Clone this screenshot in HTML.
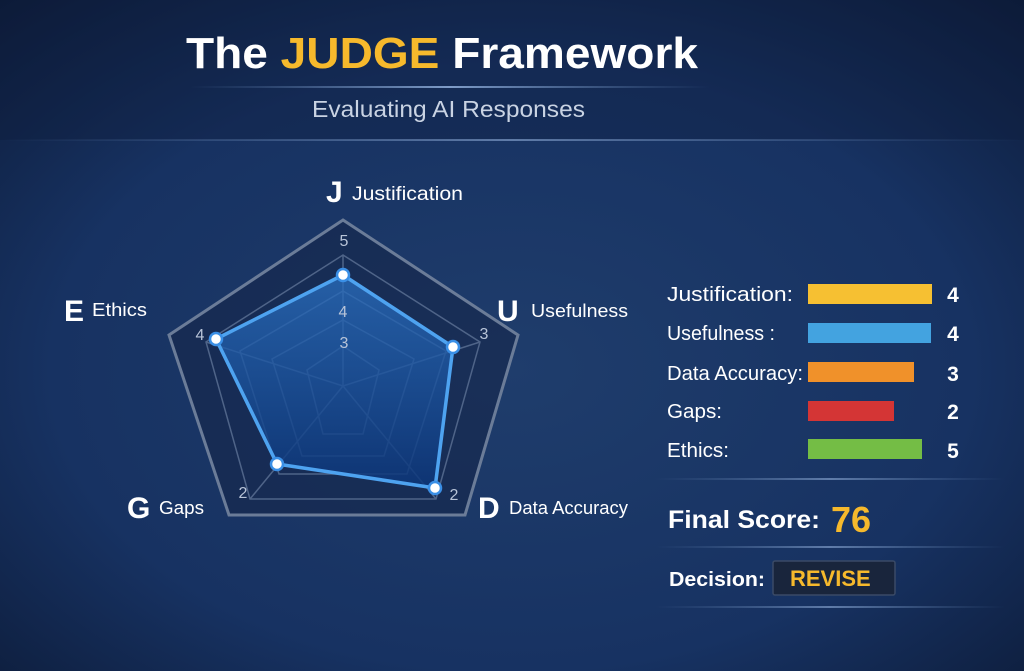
<!DOCTYPE html>
<html><head><meta charset="utf-8"><style>
html,body{margin:0;padding:0;width:1024px;height:671px;overflow:hidden;background:#142a50}
svg{display:block}
text{font-family:"Liberation Sans",sans-serif}
</style></head><body>
<svg width="1024" height="671" viewBox="0 0 1024 671" xmlns="http://www.w3.org/2000/svg">
<defs>
<radialGradient id="bg" cx="0.5" cy="0.55" r="0.75">
<stop offset="0" stop-color="#1f3d6c"/><stop offset="0.6" stop-color="#173262"/><stop offset="1" stop-color="#0c1a36"/>
</radialGradient>
<linearGradient id="hl" x1="0" x2="1"><stop offset="0" stop-color="#5a7aa8" stop-opacity="0"/><stop offset="0.5" stop-color="#7f9cc8"/><stop offset="1" stop-color="#5a7aa8" stop-opacity="0"/></linearGradient>
<linearGradient id="fill" x1="0" y1="0" x2="0" y2="1"><stop offset="0" stop-color="#2a6fc0" stop-opacity="0.75"/><stop offset="1" stop-color="#0c3578" stop-opacity="0.85"/></linearGradient>
</defs>
<rect width="1024" height="671" fill="url(#bg)"/>
<rect x="0" y="0" width="1024" height="140" fill="#0e1d3c" opacity="0.35"/>
<text x="186" y="68" font-size="44" font-weight="bold" fill="#fff" textLength="512" lengthAdjust="spacingAndGlyphs">The <tspan fill="#f6b92c">JUDGE</tspan> Framework</text>
<rect x="190" y="86" width="520" height="2" fill="url(#hl)"/>
<text x="312" y="117" font-size="23" fill="#c9d3e3" textLength="273" lengthAdjust="spacingAndGlyphs">Evaluating AI Responses</text>
<rect x="0" y="139" width="1024" height="2" fill="url(#hl)" opacity="0.7"/>
<polygon points="343,220 518,335 465,515 229,515 169,335" fill="#16274a" fill-opacity="0.6" stroke="#6b7c98" stroke-width="3"/>
<g fill="none" stroke="#4f6488" stroke-width="1.5">
<polygon points="343,255 480,342 436,499 250,499 206,342"/>
<polygon points="343,291 446,351 407,474 279,474 240,351"/>
<polygon points="343,320 414,359 384,456 302,456 272,359"/>
<polygon points="343,346 379,370 363,434 323,434 307,370"/>
<line x1="343" y1="386" x2="343" y2="255"/><line x1="343" y1="386" x2="480" y2="342"/><line x1="343" y1="386" x2="436" y2="499"/><line x1="343" y1="386" x2="250" y2="499"/><line x1="343" y1="386" x2="206" y2="342"/>
</g>
<polygon points="343,275 453,347 435,488 277,464 216,339" fill="url(#fill)" stroke="#4ea3f0" stroke-width="3.5" stroke-linejoin="round"/>
<g fill="#fff" stroke="#3a8fe6" stroke-width="2.5">
<circle cx="343" cy="275" r="6"/><circle cx="453" cy="347" r="6"/><circle cx="435" cy="488" r="6"/><circle cx="277" cy="464" r="6"/><circle cx="216" cy="339" r="6"/>
</g>
<g fill="#b8c4d8" font-size="16" text-anchor="middle">
<text x="344" y="246">5</text><text x="343" y="317">4</text><text x="344" y="348">3</text>
<text x="200" y="340">4</text><text x="484" y="339">3</text><text x="454" y="500">2</text><text x="243" y="498">2</text>
</g>
<g fill="#fff">
<text x="326" y="202" font-size="30" font-weight="bold">J</text><text x="352" y="200" font-size="19" textLength="111" lengthAdjust="spacingAndGlyphs">Justification</text>
<text x="497" y="321" font-size="30" font-weight="bold">U</text><text x="531" y="317" font-size="18" textLength="97" lengthAdjust="spacingAndGlyphs">Usefulness</text>
<text x="64" y="321" font-size="30" font-weight="bold">E</text><text x="92" y="316" font-size="18" textLength="55" lengthAdjust="spacingAndGlyphs">Ethics</text>
<text x="127" y="518" font-size="30" font-weight="bold">G</text><text x="159" y="514" font-size="18" textLength="45" lengthAdjust="spacingAndGlyphs">Gaps</text>
<text x="478" y="518" font-size="30" font-weight="bold">D</text><text x="509" y="514" font-size="18" textLength="119" lengthAdjust="spacingAndGlyphs">Data Accuracy</text>
</g>
<g fill="#fff" font-size="20" lengthAdjust="spacingAndGlyphs">
<text x="667" y="301" textLength="126" lengthAdjust="spacingAndGlyphs">Justification:</text>
<text x="667" y="340" textLength="108" lengthAdjust="spacingAndGlyphs">Usefulness :</text>
<text x="667" y="380" textLength="136" lengthAdjust="spacingAndGlyphs">Data Accuracy:</text>
<text x="667" y="418" textLength="55" lengthAdjust="spacingAndGlyphs">Gaps:</text>
<text x="667" y="457" textLength="62" lengthAdjust="spacingAndGlyphs">Ethics:</text>
</g>
<rect x="808" y="284" width="124" height="20" fill="#f6c032"/>
<rect x="808" y="323" width="123" height="20" fill="#43a3e0"/>
<rect x="808" y="362" width="106" height="20" fill="#f0912a"/>
<rect x="808" y="401" width="86" height="20" fill="#d43535"/>
<rect x="808" y="439" width="114" height="20" fill="#74bd45"/>
<g fill="#fff" font-size="21" font-weight="bold" text-anchor="middle">
<text x="953" y="302">4</text><text x="953" y="341">4</text><text x="953" y="381">3</text><text x="953" y="419">2</text><text x="953" y="458">5</text>
</g>
<rect x="655" y="478" width="350" height="2" fill="url(#hl)" opacity="0.7"/>
<text x="668" y="528" font-size="25" font-weight="bold" fill="#fff" textLength="152" lengthAdjust="spacingAndGlyphs">Final Score:</text>
<text x="831" y="532" font-size="36" font-weight="bold" fill="#f6b92c">76</text>
<rect x="655" y="546" width="350" height="2" fill="url(#hl)" opacity="0.7"/>
<text x="669" y="586" font-size="20" font-weight="bold" fill="#fff" textLength="96" lengthAdjust="spacingAndGlyphs">Decision:</text>
<rect x="773" y="561" width="122" height="34" fill="#19253c" stroke="#3a4a66" stroke-width="1.5" rx="2"/>
<text x="790" y="586" font-size="22" font-weight="bold" fill="#f6b92c">REVISE</text>
<rect x="655" y="606" width="350" height="2" fill="url(#hl)" opacity="0.7"/>
</svg>
</body></html>
